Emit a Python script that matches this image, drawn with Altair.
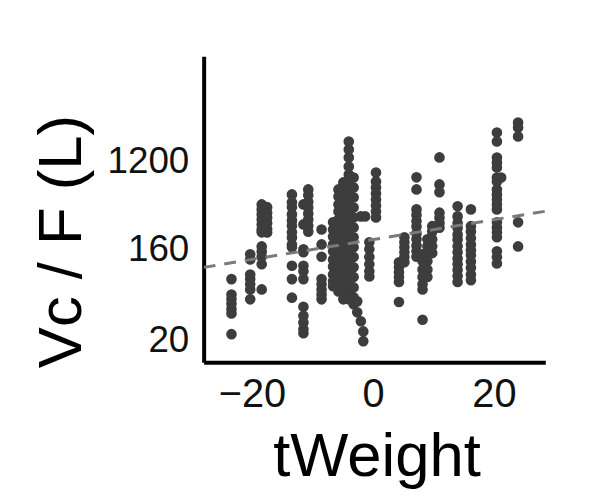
import altair as alt
import pandas as pd

# tWeight position of each vertical column of observations
tweight_cols = [-23.4, -20.3, -18.4, -17.5, -13.4, -11.5, -10.7, -8.5,
                -6.6, -5.7, -4.9, -4.0, -3.2, -2.6, -2.0, -1.6, -1.3,
                -0.6, 0.5, 4.3, 5.2, 7.2, 8.2, 9.0, 9.8, 11.0, 14.0,
                16.2, 20.5, 21.2, 24.0]

# Vc/F (L) values observed in each column
vcf_cols = [
    [81, 57, 51, 46, 41, 37, 23],
    [143, 127, 90, 81, 72, 64, 51],
    [447, 399, 356, 317, 283, 252, 236, 171, 152, 135, 114, 64],
    [420, 370, 330, 290, 255, 235],
    [562, 470, 420, 356, 310, 275, 236, 210, 179, 168, 110, 81, 53],
    [447, 283, 160, 150, 110, 97, 81, 43, 35, 30, 25.7, 23.5],
    [630, 550, 475, 417, 364, 317, 275, 240],
    [252, 179, 135, 81, 72, 64, 57, 51],
    [297, 252, 215, 179, 153, 127, 108, 90, 77, 69],
    [630, 537, 447, 381, 317, 264, 220, 183, 153, 127, 106, 88, 73.5, 61],
    [739, 630, 525, 437, 364, 303, 252, 211, 175, 146, 122, 101, 85, 70, 58.5, 51],
    [1884, 1570, 1308, 1064, 887, 739, 630, 525, 437, 364, 303, 252, 211,
     175, 146, 122, 101, 85, 70, 58.5, 51],
    [828, 659, 525, 417, 332, 264, 211, 168, 134, 106, 85, 67, 53.5, 45.5],
    [48.7, 37.9],
    [30.9, 340],
    [24.5, 19.6],
    [340],
    [188, 160, 134, 114, 97, 86],
    [928, 756, 659, 574, 501, 437, 381, 332],
    [119, 106, 95, 85, 76, 48],
    [211, 188, 168, 150, 134, 119],
    [830, 630, 399, 350, 305, 270, 230, 201, 175, 153, 135],
    [143, 122, 101, 85, 72, 64, 32],
    [201, 172, 147, 122, 101, 85],
    [272, 240, 201, 172, 147],
    [1310, 706, 592, 370, 330, 292, 262],
    [428, 340, 293, 260, 225, 200, 172, 150, 130, 114, 100, 87, 76],
    [399, 272, 240, 206, 179, 157, 140, 121, 105, 90, 79],
    [2314, 1884, 1308, 1166, 1040, 828, 756, 630, 562, 501, 447, 399,
     297, 264, 236, 211, 153, 134, 116],
    [828],
    [2910, 2594, 2112, 297, 171],
]

# fitted trend line (end points)
fit_x = [-28.0, 28.5]
fit_y = [106, 382]

x_ticks = [-20, 0, 20]
y_ticks = [20, 160, 1200]

rows = []
for xv, ys in zip(tweight_cols, vcf_cols):
    for yv in ys:
        rows.append({"tWeight": xv, "VcF": yv})
points_df = pd.DataFrame(rows)
fit_df = pd.DataFrame({"tWeight": fit_x, "VcF": fit_y})

FONT = "Liberation Sans"

x_scale = alt.Scale(domain=[-28, 28.5], nice=False, zero=False)
y_scale = alt.Scale(type="log", domain=[12.1, 13200], nice=False)

x_axis = alt.Axis(values=x_ticks, title="tWeight", grid=False, ticks=False,
                  domainWidth=4, domainColor="black",
                  labelFont=FONT, labelFontSize=40, labelColor="#111111",
                  labelPadding=13,
                  titleFont=FONT, titleFontSize=62, titleFontWeight="normal",
                  titleColor="black", titleX=174, titleY=114,
                  titleBaseline="alphabetic", titleAlign="center")
y_axis = alt.Axis(values=y_ticks, title="Vc / F (L)", grid=False, ticks=False,
                  domainWidth=4, domainColor="black", format="d",
                  labelFont=FONT, labelFontSize=37, labelColor="#111111",
                  labelPadding=15,
                  titleFont=FONT, titleFontSize=62, titleFontWeight="normal",
                  titleColor="black", titleX=-124, titleY=186, titleAngle=270,
                  titleBaseline="alphabetic", titleAlign="center")

pts = alt.Chart(points_df).mark_circle(size=115, color="#3d3d3d", opacity=1).encode(
    x=alt.X("tWeight:Q", scale=x_scale, axis=x_axis),
    y=alt.Y("VcF:Q", scale=y_scale, axis=y_axis),
)

line = alt.Chart(fit_df).mark_line(color="#7a7a7a", strokeWidth=3,
                                   strokeDash=[12, 9], clip=True).encode(
    x=alt.X("tWeight:Q", scale=x_scale),
    y=alt.Y("VcF:Q", scale=y_scale),
)

chart = alt.layer(pts, line).properties(
    width=344, height=308,
    padding={"left": 197, "top": 47, "right": 43, "bottom": 140},
    autosize=alt.AutoSizeParams(type="none"),
    background="white",
).configure_view(stroke=None)

chart.save("out.html", embed_options={"renderer": "svg", "actions": False})
